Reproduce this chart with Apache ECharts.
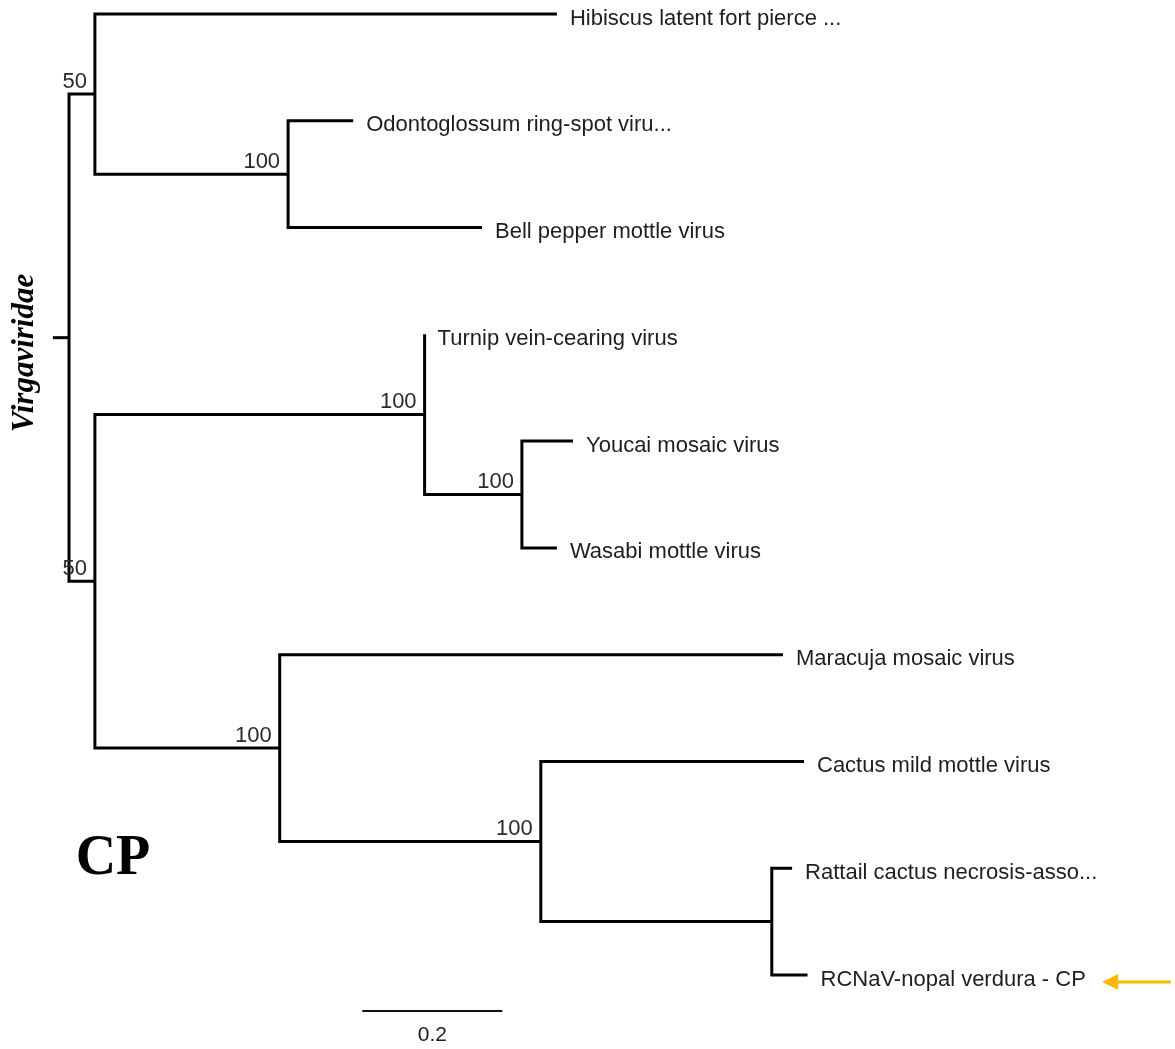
<!DOCTYPE html>
<html>
<head>
<meta charset="utf-8">
<script src="https://cdn.jsdelivr.net/npm/echarts@6/dist/echarts.min.js"></script>
<style>
html,body{margin:0;padding:0;background:#fff;}
#chart{width:1175px;height:1049px;}
</style>
</head>
<body>
<div id="chart"></div>
<script>
const leafNames = [
  'Hibiscus latent fort pierce ...',
  'Odontoglossum ring-spot viru...',
  'Bell pepper mottle virus',
  'Turnip vein-cearing virus',
  'Youcai mosaic virus',
  'Wasabi mottle virus',
  'Maracuja mosaic virus',
  'Cactus mild mottle virus',
  'Rattail cactus necrosis-asso...',
  'RCNaV-nopal verdura - CP'
];
const leafParent = ['n1','n2','n2','n4','n5','n5','n6','n7','n8','n8'];
const leafBranch = [0.660, 0.093, 0.277, 0.000, 0.073, 0.050, 0.719, 0.376, 0.029, 0.051];

const nodeIds     = ['root','n1','n2','n3','n4','n5','n6','n7','n8'];
const nodeParent  = [null,  'root','n1','root','n3','n4','n3','n6','n7'];
const nodeBranch  = [0.023, 0.037, 0.276, 0.037, 0.471, 0.139, 0.264, 0.373, 0.330];
const bootstrap   = [null,  50,    100,   50,    100,   100,   100,   100,   null];

const scaleBarLength = 0.2;
const scaleBarLabel = '0.2';
const scaleBarStart = 0.419;
const highlightLeaf = 'RCNaV-nopal verdura - CP';

// ---- Build tree geometry in data units ----
const nodeX = {}, nodeY = {}, children = {};
nodeIds.forEach(id => { children[id] = []; });
nodeIds.forEach((id, i) => {
  if (nodeParent[i]) children[nodeParent[i]].push({type:'node', id});
});
leafNames.forEach((n, i) => { children[leafParent[i]].push({type:'leaf', idx:i}); });
function minLeaf(c){
  if (c.type === 'leaf') return c.idx;
  return Math.min(...children[c.id].map(minLeaf));
}
nodeIds.forEach(id => children[id].sort((a,b)=>minLeaf(a)-minLeaf(b)));

nodeX['root'] = 0;
function setX(id){
  children[id].forEach(c => {
    if (c.type === 'node') {
      nodeX[c.id] = nodeX[id] + nodeBranch[nodeIds.indexOf(c.id)];
      setX(c.id);
    }
  });
}
setX('root');
const leafX = leafNames.map((n,i) => nodeX[leafParent[i]] + leafBranch[i]);
const leafY = leafNames.map((n,i) => i);
function getY(c){
  if (c.type === 'leaf') return leafY[c.idx];
  if (nodeY[c.id] === undefined) {
    const ch = children[c.id];
    nodeY[c.id] = (getY(ch[0]) + getY(ch[ch.length-1])) / 2;
  }
  return nodeY[c.id];
}
nodeIds.forEach(id => getY({type:'node', id}));
function cx(c){ return c.type === 'leaf' ? leafX[c.idx] : nodeX[c.id]; }

const bracketData = nodeIds.map(id => {
  const ch = children[id];
  const f = ch[0], l = ch[ch.length-1];
  return [nodeX[id], getY(f), getY(l), cx(f), cx(l), nodeY[id]];
});
const stubData = [[-nodeBranch[0], nodeY['root'], 0]];
const leafLabelData = leafNames.map((n,i) => [leafX[i], leafY[i], n]);
const bootData = nodeIds.map((id,i) => [nodeX[id], nodeY[id], bootstrap[i]]).filter(d => d[2] !== null);
const hiIdx = leafNames.indexOf(highlightLeaf);
const arrowData = [[1.476, leafY[hiIdx] + 0.066, 1.574]];

const LINE = '#000';
const TXT = '#1e1e1e';

const chart = echarts.init(document.getElementById('chart'), null, {renderer:'canvas'});
chart.setOption({
  backgroundColor: '#fff',
  animation: false,
  grid: {left: 34, top: 14, width: 1085, height: 961},
  xAxis: {type:'value', min:-0.05, max:1.5, show:false},
  yAxis: {type:'value', min:0, max:9, inverse:true, show:false},
  graphic: [
    {type:'text', x:25, y:353, rotation:Math.PI/2,
     style:{text:'Virgaviridae', font:'italic bold 31px "Liberation Serif"', fill:'#000', align:'center', verticalAlign:'middle'}},
    {type:'text', x:113, y:860,
     style:{text:'CP', font:'bold 56px "Liberation Serif"', fill:'#000', align:'center', verticalAlign:'middle'}}
  ],
  series: [
    {
      type:'custom', name:'branches', coordinateSystem:'cartesian2d', clip:false, silent:true,
      data: bracketData,
      encode:{x:0, y:1},
      renderItem(params, api){
        const nx = api.value(0), fy = api.value(1), ly = api.value(2), fx = api.value(3), lx = api.value(4);
        const pts = [];
        if (fx !== nx) pts.push(api.coord([fx, fy]));
        pts.push(api.coord([nx, fy]));
        pts.push(api.coord([nx, ly]));
        if (lx !== nx) pts.push(api.coord([lx, ly]));
        return {type:'polyline', shape:{points:pts},
          style:{stroke:LINE, lineWidth:3, fill:null, lineJoin:'miter', lineCap:'butt'}};
      }
    },
    {
      type:'custom', name:'rootStub', coordinateSystem:'cartesian2d', clip:false, silent:true,
      data: stubData, encode:{x:0, y:1},
      renderItem(params, api){
        const a = api.coord([api.value(0), api.value(1)]);
        const b = api.coord([api.value(2), api.value(1)]);
        return {type:'line', shape:{x1:a[0], y1:a[1], x2:b[0], y2:b[1]},
          style:{stroke:LINE, lineWidth:3}};
      }
    },
    {
      type:'custom', name:'leafLabels', coordinateSystem:'cartesian2d', clip:false, silent:true,
      data: leafLabelData, encode:{x:0, y:1},
      renderItem(params, api){
        const p = api.coord([api.value(0), api.value(1)]);
        return {type:'text', x:p[0] + 13, y:p[1] + 4.5,
          style:{text: leafLabelData[params.dataIndex][2], font:'22px "Liberation Sans"', fill:TXT, align:'left', verticalAlign:'middle'}};
      }
    },
    {
      type:'custom', name:'bootstrap', coordinateSystem:'cartesian2d', clip:false, silent:true,
      data: bootData, encode:{x:0, y:1},
      renderItem(params, api){
        const p = api.coord([api.value(0), api.value(1)]);
        return {type:'text', x:p[0] - 8, y:p[1] - 12.5,
          style:{text: String(bootData[params.dataIndex][2]), font:'22px "Liberation Sans"', fill:'#2a2a2a', align:'right', verticalAlign:'middle'}};
      }
    },
    {
      type:'custom', name:'scaleBar', coordinateSystem:'cartesian2d', clip:false, silent:true,
      data: [[scaleBarStart, 9.337, scaleBarStart + scaleBarLength]], encode:{x:0, y:1},
      renderItem(params, api){
        const a = api.coord([api.value(0), api.value(1)]);
        const b = api.coord([api.value(2), api.value(1)]);
        return {type:'group', children:[
          {type:'line', shape:{x1:a[0], y1:a[1], x2:b[0], y2:b[1]}, style:{stroke:'#111', lineWidth:2}},
          {type:'text', x:(a[0]+b[0])/2, y:a[1] + 24,
           style:{text:scaleBarLabel, font:'21px "Liberation Sans"', fill:TXT, align:'center', verticalAlign:'middle'}}
        ]};
      }
    },
    {
      type:'custom', name:'arrow', coordinateSystem:'cartesian2d', clip:false, silent:true,
      data: arrowData, encode:{x:0, y:1},
      renderItem(params, api){
        const tip = api.coord([api.value(0), api.value(1)]);
        const tail = api.coord([api.value(2), api.value(1)]);
        const c = '#FFB800';
        return {type:'group', children:[
          {type:'line', shape:{x1:tip[0] + 12, y1:tip[1], x2:tail[0], y2:tail[1]}, style:{stroke:c, lineWidth:3}},
          {type:'polygon', shape:{points:[[tip[0], tip[1]], [tip[0] + 16, tip[1] - 8], [tip[0] + 16, tip[1] + 8]]}, style:{fill:c}}
        ]};
      }
    }
  ]
});
</script>
</body>
</html>
